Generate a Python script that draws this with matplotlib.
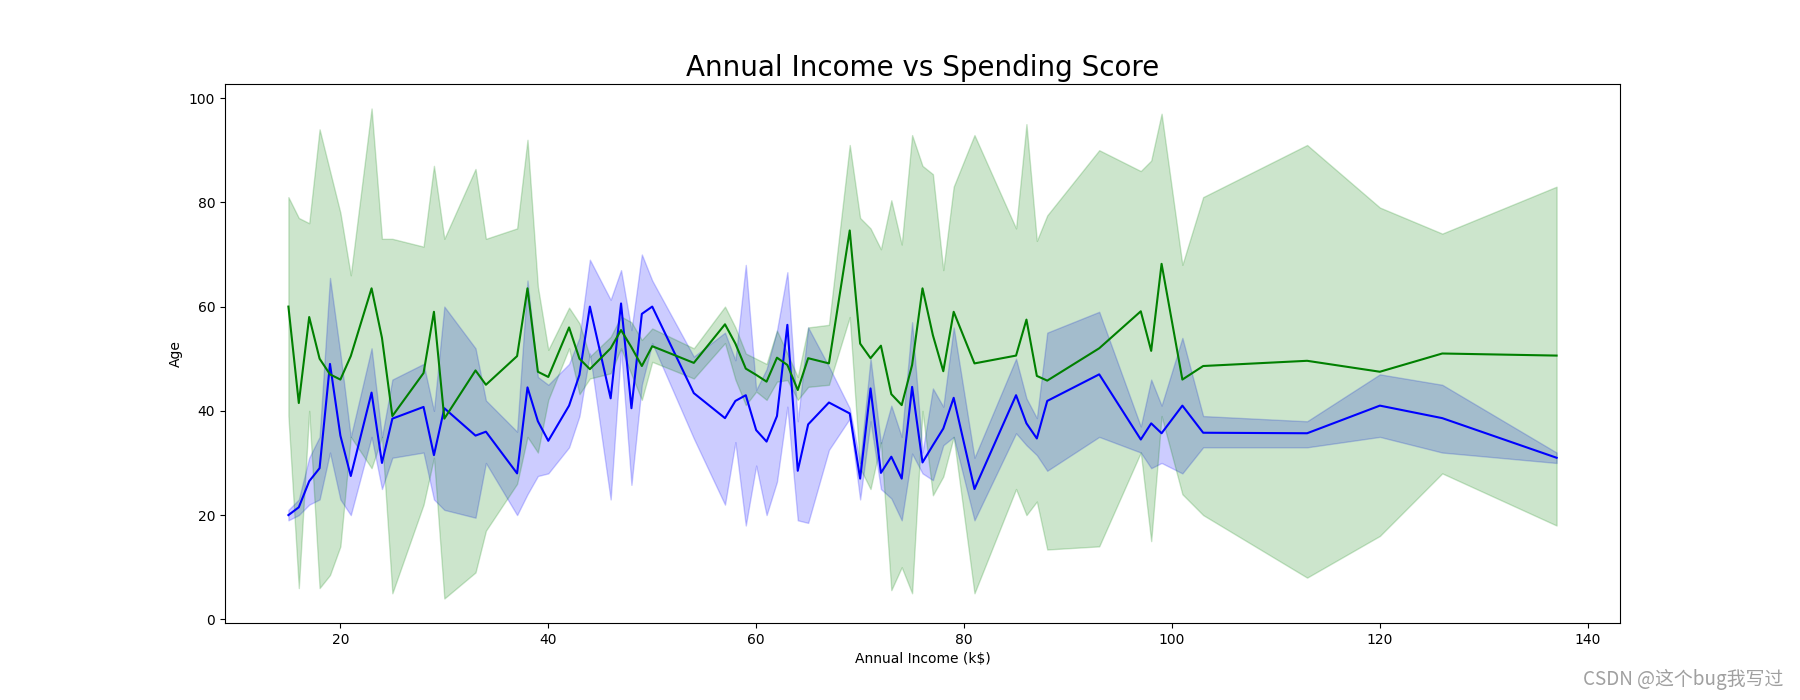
import matplotlib.pyplot as plt

# unique annual income values (k$)
income = [15, 16, 17, 18, 19, 20, 21, 23, 24, 25, 28, 29, 30, 33, 34, 37, 38, 39, 40,
          42, 43, 44, 46, 47, 48, 49, 50, 54, 57, 58, 59, 60, 61, 62, 63, 64, 65, 67,
          69, 70, 71, 72, 73, 74, 75, 76, 77, 78, 79, 81, 85, 86, 87, 88, 93, 97, 98,
          99, 101, 103, 113, 120, 126, 137]

# mean age per income + 95% ci
age_mean = [20, 21.5, 26.5, 29, 49, 35.25, 27.5, 43.5, 30, 38.5, 40.75, 31.5, 40.5, 35.25, 36, 28, 44.5, 38, 34.25,
            41, 46.9, 60, 42.4, 60.6, 40.5, 58.6, 60, 43.4, 38.6, 41.9, 43, 36.3, 34.1, 39, 56.5, 28.5, 37.4, 41.6,
            39.5, 27, 44.3, 28.1, 31.2, 27, 44.6, 30.1, 33.4, 36.6, 42.5, 25, 43, 37.6, 34.7, 41.9, 47, 34.5, 37.6,
            35.7, 41, 35.8, 35.7, 41, 38.6, 31]
age_low = [19, 20, 22, 23, 32, 23, 20, 35, 25, 31, 32, 23, 21, 19.5, 30, 20, 24, 27.5, 28,
           33, 39, 51, 23, 51.7, 25.8, 45, 53, 34.7, 22, 34, 18, 29.5, 20, 26.4, 40.8, 19, 18.5, 32.5,
           38.5, 23, 38, 25, 23.2, 19, 31.8, 28, 26.7, 33.4, 35, 19, 35.7, 33.4, 31.5, 28.5, 35, 32, 29,
           30, 28, 33, 33, 35, 32, 30]
age_high = [21, 23, 31, 35, 65.5, 51, 35, 52, 35, 46, 49, 40, 60, 52, 42, 36, 65, 46.5, 45,
            49, 54, 69, 61.3, 67, 55.5, 70, 65, 50.4, 55, 49.7, 68, 44, 48, 55.4, 66.6, 38, 56, 48.5,
            40.5, 30, 50, 33.8, 41, 35, 57, 32, 44.3, 40.8, 56, 31, 50, 42.4, 38.6, 55, 59, 37, 46,
            41, 54, 39, 38, 47, 45, 32]

# mean spending score per income + 95% ci
spend_mean = [60, 41.5, 58, 50, 47, 46, 50.5, 63.5, 54, 39, 47.25, 59, 38.5, 47.75, 45, 50.5, 63.5, 47.5, 46.5,
              56, 50, 48, 52, 55.5, 52.2, 48.6, 52.4, 49.2, 56.6, 52.9, 48.1, 46.9, 45.6, 50.2, 48.8, 44, 50.1, 49.1,
              74.6, 52.9, 50.1, 52.5, 43.2, 41.1, 48.8, 63.5, 54.5, 47.6, 59, 49.1, 50.6, 57.5, 46.7, 45.8, 52, 59.1,
              51.5, 68.2, 46, 48.6, 49.6, 47.5, 51, 50.6]
spend_low = [39, 6, 40, 6, 8.5, 14, 35, 29, 35, 5, 22, 31, 4, 9, 17, 26, 35, 32, 42.1,
             52, 43.2, 46.2, 47.2, 52, 47, 42.1, 49.4, 46.2, 53, 46, 41.1, 43.7, 42.1, 45.6, 45.9, 42.1, 44.6, 45,
             58, 29, 25, 34, 5.6, 10, 5, 40, 23.8, 27.4, 35, 5, 25, 20, 22.6, 13.4, 14, 32, 15,
             39, 24, 20, 8, 16, 28, 18]
spend_high = [81, 77, 76, 94, 86, 78, 66, 98, 73, 73, 71.5, 87, 73, 86.4, 73, 75, 92, 63.8, 51.7,
              59.8, 56.8, 50.4, 54.2, 58.1, 57, 53.6, 55.8, 52, 60, 56, 51, 50, 49, 55.4, 51, 46.5, 56, 56.5,
              91, 77, 75, 71, 80.4, 71.9, 92.9, 87, 85.4, 67, 83, 92.9, 75, 95, 72.6, 77.5, 90, 86, 88,
              97, 68, 81, 91, 79, 74, 83]


def add_line(ax, x, mean, low, high, color):
    ax.fill_between(x, low, high, color=color, alpha=0.2)
    ax.plot(x, mean, color=color, linewidth=1.5)


fig, ax = plt.subplots(figsize=(18, 7), dpi=100)
add_line(ax, income, age_mean, age_low, age_high, "blue")
add_line(ax, income, spend_mean, spend_low, spend_high, "green")
ax.set_title("Annual Income vs Spending Score", fontsize=20)
ax.set_xlabel("Annual Income (k$)")
ax.set_ylabel("Age")

# watermark, bottom right
fig.text(0.9906, 0.029, "CSDN @这个bug我写过", ha="right", va="center", fontsize=13.6,
         color="#a0a0a0", family=["Noto Sans CJK SC", "DejaVu Sans"])

fig.savefig("out.png", dpi=100)
plt.close(fig)
